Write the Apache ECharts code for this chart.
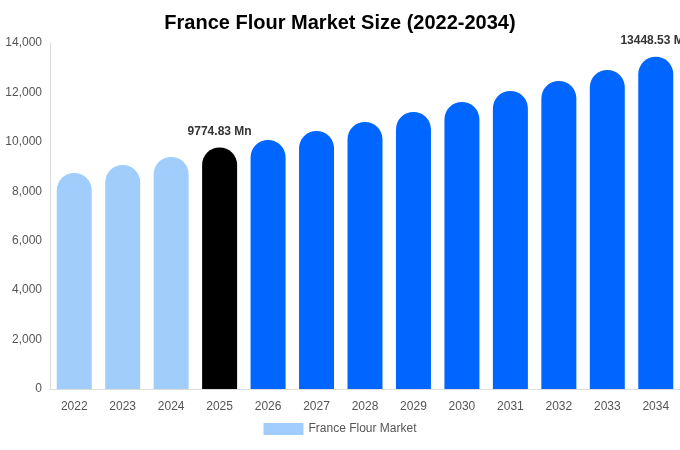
<!DOCTYPE html>
<html>
<head>
<meta charset="utf-8">
<script src="https://cdn.jsdelivr.net/npm/echarts@6/dist/echarts.min.js"></script>
<style>html,body{margin:0;padding:0;background:#fff}#main{width:680px;height:450px}</style>
</head>
<body>
<div id="main"></div>
<script>
var years = ['2022','2023','2024','2025','2026','2027','2028','2029','2030','2031','2032','2033','2034'];
var values = [8740, 9065, 9390, 9774.83, 10077, 10441, 10805, 11210, 11615, 12060, 12465, 12910, 13448.53];
var yTicks = [0, 2000, 4000, 6000, 8000, 10000, 12000, 14000];

// 历史 / 当年 / 预测 颜色
function barColor(i) {
    if (i < 3) return '#a0cdfc';
    if (i == 3) return '#000000';
    return '#0066ff';
}

var chart = echarts.init(document.getElementById('main'));
chart.setOption({
    title: {
        text: 'France Flour Market Size (2022-2034)',
        left: 'center',
        top: 8,
        textStyle: {fontFamily: 'Liberation Sans', fontSize: 20, fontWeight: 'bold', color: '#000'}
    },
    legend: {
        bottom: 10,
        data: ['France Flour Market'],
        itemWidth: 40,
        itemHeight: 12,
        icon: 'rect',
        itemStyle: {color: '#a0cdfc'},
        textStyle: {fontFamily: 'Liberation Sans', fontSize: 12, color: '#555'}
    },
    grid: {left: 50, right: 0, top: 43, bottom: 61},
    xAxis: {
        type: 'category',
        data: years,
        axisTick: {show: false},
        axisLine: {lineStyle: {color: '#ddd'}},
        axisLabel: {fontFamily: 'Liberation Sans', fontSize: 12, color: '#555', margin: 12}
    },
    yAxis: {
        type: 'value',
        min: yTicks[0],
        max: yTicks[yTicks.length - 1],
        interval: 2000,
        splitLine: {show: false},
        axisLine: {show: true, lineStyle: {color: '#ddd'}},
        axisLabel: {fontFamily: 'Liberation Sans', fontSize: 12, color: '#555',
            formatter: function(v) { return v.toLocaleString('en-US'); }}
    },
    series: [{
        name: 'France Flour Market',
        type: 'bar',
        barWidth: 35,
        data: values.map(function(v, i) {
            var d = {value: v, itemStyle: {color: barColor(i), borderRadius: [18, 18, 0, 0]}};
            if (i == 3 || i == 12) {
                d.label = {show: true, position: 'top', distance: 10,
                    formatter: v.toFixed(2) + ' Mn',
                    fontFamily: 'Liberation Sans', fontSize: 12, fontWeight: 'bold', color: '#333'};
            }
            return d;
        })
    }]
});
</script>
</body>
</html>
